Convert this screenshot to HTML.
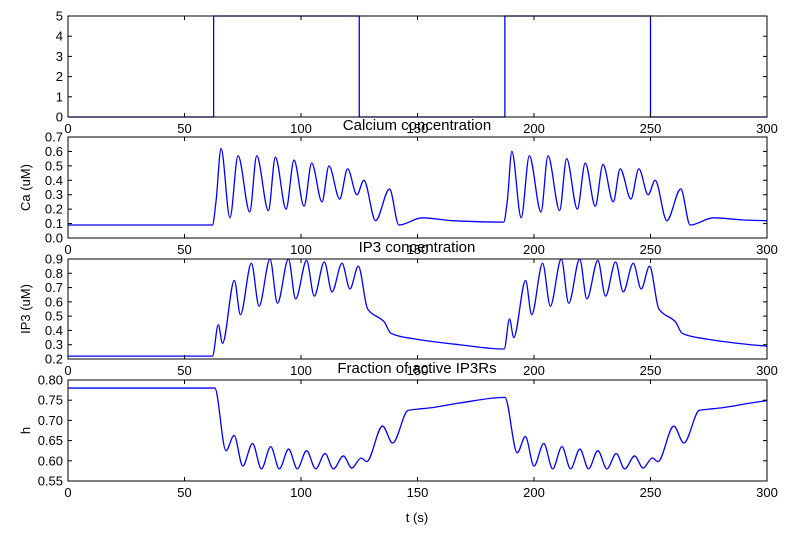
<!DOCTYPE html>
<html><head><meta charset="utf-8"><style>
body{margin:0;background:#fff;}
svg text{font-family:"Liberation Sans",sans-serif;fill:#000;}
</style></head><body>
<svg id="chart" width="789" height="533" xmlns="http://www.w3.org/2000/svg"></svg>
<script>
// ---- data ----
const xTicks = [0,50,100,150,200,250,300];
const stimT = [0,62.5,62.5,125,125,187.5,187.5,250,250,300];
const stimV = [0,0,5,5,0,0,5,5,0,0];
const caT = [0,62,63.5,65.7,69.5,73,78,81,86,89,93.6,97,101.3,104.6,109,112,116.6,120,124,127,132,138,142,152,165,187,
  188.5,190.5,194.5,198,203,206,211,214,218.6,222,226.3,229.6,234,237,241.6,245,249,252,257,263,267,277,290,300];
const caV = [0.09,0.09,0.25,0.62,0.14,0.57,0.18,0.57,0.19,0.56,0.20,0.54,0.22,0.52,0.25,0.50,0.27,0.48,0.30,0.40,0.12,0.34,0.09,0.14,0.12,0.11,
  0.25,0.60,0.14,0.57,0.18,0.57,0.19,0.55,0.20,0.52,0.22,0.51,0.25,0.48,0.27,0.48,0.30,0.40,0.12,0.34,0.09,0.14,0.125,0.12];
const ip3T = [0,62,64.5,66.3,71.4,74,78.7,82,86.7,89.9,94.6,97.7,102.4,105.7,110,113.3,117.6,121,124.6,128.6,135.7,138.6,149,168,187,
  187.2,189.5,191.3,196.4,199,203.7,207,211.7,214.9,219.6,222.7,227.4,230.7,235,238.3,242.6,246,249.6,253.6,260.7,263.6,274,293,300];
const ip3V = [0.22,0.22,0.44,0.31,0.75,0.51,0.87,0.57,0.90,0.59,0.90,0.62,0.89,0.64,0.88,0.67,0.87,0.69,0.85,0.55,0.46,0.38,0.34,0.30,0.27,
  0.27,0.48,0.35,0.75,0.51,0.87,0.57,0.90,0.59,0.90,0.62,0.89,0.64,0.88,0.67,0.87,0.69,0.85,0.55,0.46,0.38,0.34,0.30,0.29];
const hT = [0,63,67.8,71.3,75,79.2,83,87,90.7,94.7,98.4,102.4,106.3,110.3,113.9,118.2,121.8,125.8,128.2,135,139.3,146,150.3,155.4,168,187.5,
  192.8,196.3,200,204.2,208,212,215.7,219.7,223.4,227.4,231.3,235.3,238.9,243.2,246.8,250.8,253.2,260,264.3,271,275.3,280.4,293,300];
const hV = [0.78,0.78,0.625,0.663,0.587,0.643,0.58,0.635,0.58,0.629,0.58,0.625,0.58,0.618,0.58,0.612,0.582,0.607,0.598,0.686,0.644,0.725,0.728,0.731,0.743,0.757,
  0.62,0.66,0.587,0.643,0.58,0.635,0.58,0.629,0.58,0.625,0.58,0.618,0.58,0.612,0.582,0.607,0.598,0.686,0.644,0.725,0.728,0.731,0.743,0.749];
const stimTicks=[0,1,2,3,4,5], caTicks=[0,0.1,0.2,0.3,0.4,0.5,0.6,0.7];
const ip3Ticks=[0.2,0.3,0.4,0.5,0.6,0.7,0.8,0.9], hTicks=[0.55,0.6,0.65,0.7,0.75,0.8];

const svg=document.getElementById('chart');
const NS='http://www.w3.org/2000/svg';
const X0=68,X1=767;
const xs=t=>X0+(t/300)*(X1-X0);
function mk(tag,attrs,parent){const e=document.createElementNS(NS,tag);for(const k in attrs)e.setAttribute(k,attrs[k]);(parent||svg).appendChild(e);return e;}

// monotone cubic (Fritsch-Carlson) path in pixel space
function monoPath(P){
  const n=P.length,dx=[],m=[],tg=new Array(n).fill(0);
  for(let i=0;i<n-1;i++){dx[i]=P[i+1][0]-P[i][0];m[i]=(P[i+1][1]-P[i][1])/dx[i];}
  tg[0]=m[0];tg[n-1]=m[n-2];
  for(let i=1;i<n-1;i++){
    if(m[i-1]*m[i]<=0)tg[i]=0;
    else{const w1=2*dx[i]+dx[i-1],w2=dx[i]+2*dx[i-1];tg[i]=(w1+w2)/(w1/m[i-1]+w2/m[i]);}
  }
  let d='M'+P[0][0]+','+P[0][1];
  for(let i=0;i<n-1;i++){
    const h=dx[i]/3;
    d+='C'+(P[i][0]+h)+','+(P[i][1]+tg[i]*h)+' '+(P[i+1][0]-h)+','+(P[i+1][1]-tg[i+1]*h)+' '+P[i+1][0]+','+P[i+1][1];
  }
  return d;
}

const panels=[
 {name:'stimulus',top:16,bot:117,min:0,max:5,ticks:stimTicks,fmt:v=>String(v),T:stimT,V:stimV,smooth:false,ylabel:null,title:null},
 {name:'calcium',top:137,bot:238,min:0,max:0.7,ticks:caTicks,fmt:v=>v.toFixed(1),T:caT,V:caV,smooth:true,ylabel:'Ca (uM)',title:'Calcium concentration'},
 {name:'ip3',top:259,bot:359,min:0.2,max:0.9,ticks:ip3Ticks,fmt:v=>v.toFixed(1),T:ip3T,V:ip3V,smooth:true,ylabel:'IP3 (uM)',title:'IP3 concentration'},
 {name:'h',top:380,bot:481,min:0.55,max:0.8,ticks:hTicks,fmt:v=>v.toFixed(2),T:hT,V:hV,smooth:true,ylabel:'h',title:'Fraction of active IP3Rs'}
];
panels.forEach(p=>{
  const g=mk('g',{});
  
  
  const ys=v=>p.bot-(v-p.min)/(p.max-p.min)*(p.bot-p.top);
  const pts=p.T.map((t,i)=>[xs(t),ys(p.V[i])]);
  let d;
  if(p.smooth){
    // split where duplicate x to avoid div by zero
    d=monoPath(pts.filter((q,i)=>i===0||q[0]>pts[i-1][0]+1e-6));
  } else {
    d='M'+pts.map(q=>q[0]+','+q[1]).join('L');
  }
  const line=mk('path',{d:d,fill:'none',stroke:'#0000ff','stroke-width':1.3},g);
  
  
  const fr=mk('rect',{x:X0,y:p.top,width:X1-X0,height:p.bot-p.top,fill:'none',stroke:'#000','stroke-width':1},g);
  
  
  xTicks.forEach(t=>{
    const x=xs(t);
    mk('line',{x1:x,x2:x,y1:p.bot,y2:p.bot-4,stroke:'#000'},g);
    mk('line',{x1:x,x2:x,y1:p.top,y2:p.top+4,stroke:'#000'},g);
    const tx=mk('text',{x:x,y:p.bot+16,'text-anchor':'middle','font-size':13},g);
    tx.textContent=t;
    
    
  });
  p.ticks.forEach(v=>{
    const y=ys(v);
    mk('line',{x1:X0,x2:X0+4,y1:y,y2:y,stroke:'#000'},g);
    mk('line',{x1:X1,x2:X1-4,y1:y,y2:y,stroke:'#000'},g);
    const tx=mk('text',{x:X0-5,y:y+4.5,'text-anchor':'end','font-size':13},g);
    tx.textContent=p.fmt(v);
    
    
  });
  if(p.ylabel){
    const cy=(p.top+p.bot)/2;
    const yl=mk('text',{x:30,y:cy,'text-anchor':'middle','font-size':13,transform:'rotate(-90 30 '+cy+')'},g);
    yl.textContent=p.ylabel;
    
    
  }
  if(p.title){
    const tt=mk('text',{x:417,y:p.top-7,'text-anchor':'middle','font-size':15},g);
    tt.textContent=p.title;
    
    
  }
});
const xl=mk('text',{x:417,y:522,'text-anchor':'middle','font-size':13});
xl.textContent='t (s)';


</script>
</body></html>
